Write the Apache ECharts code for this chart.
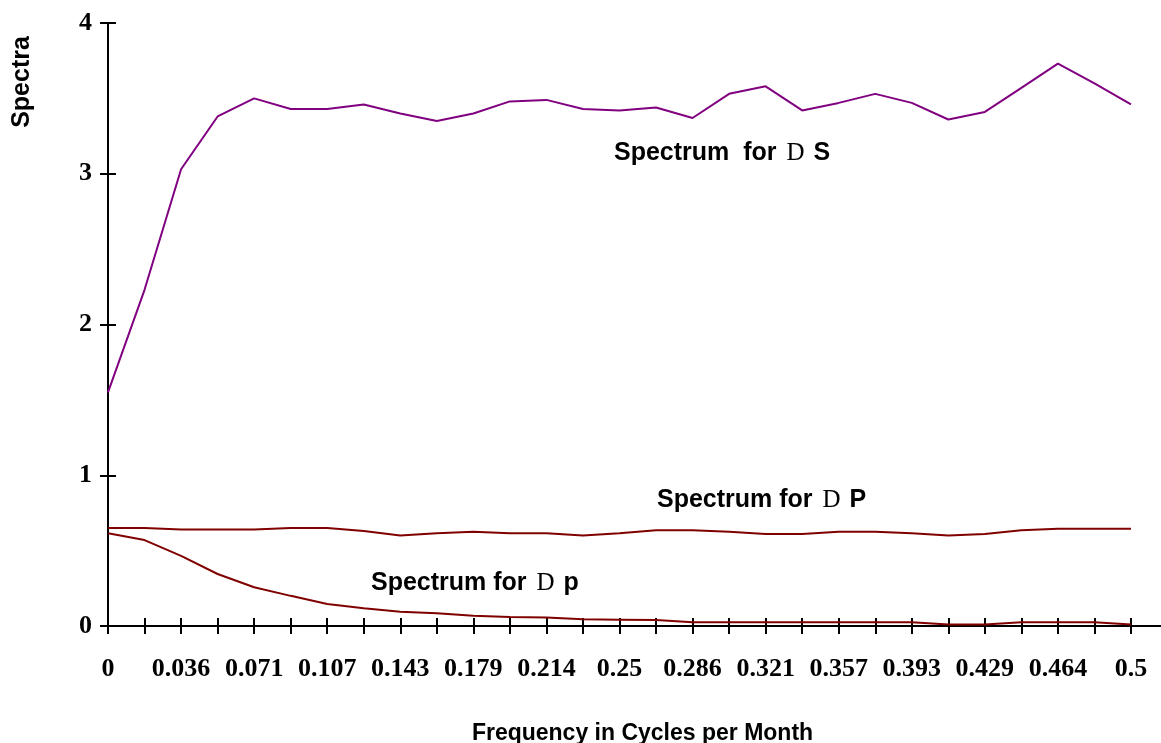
<!DOCTYPE html>
<html>
<head>
<meta charset="utf-8">
<script src="https://cdn.jsdelivr.net/npm/echarts@6/dist/echarts.min.js"></script>
<style>
html,body{margin:0;padding:0;background:#fff;}
#chart{width:1161px;height:743px;}
</style>
</head>
<body>
<div id="chart"></div>
<script>
// Frequency categories (cycles per month)
var frequencies = ['0','0.018','0.036','0.054','0.071','0.089','0.107','0.125','0.143','0.161','0.179','0.196','0.214','0.232','0.25','0.268','0.286','0.304','0.321','0.339','0.357','0.375','0.393','0.411','0.429','0.446','0.464','0.482','0.5'];

// Spectrum for ΔS
var spectrumDS = [1.55,2.23,3.03,3.38,3.50,3.43,3.43,3.46,3.40,3.35,3.40,3.48,3.49,3.43,3.42,3.44,3.37,3.53,3.58,3.42,3.47,3.53,3.47,3.36,3.41,3.57,3.73,3.60,3.46];

// Spectrum for ΔP
var spectrumDP = [0.65,0.65,0.64,0.64,0.64,0.65,0.65,0.63,0.60,0.615,0.625,0.615,0.615,0.60,0.615,0.635,0.635,0.625,0.61,0.61,0.625,0.625,0.615,0.60,0.61,0.635,0.645,0.645,0.645];

// Spectrum for Δp
var spectrumDp = [0.615,0.57,0.465,0.345,0.257,0.20,0.146,0.117,0.095,0.084,0.068,0.06,0.057,0.044,0.042,0.04,0.025,0.025,0.025,0.025,0.025,0.025,0.025,0.01,0.01,0.025,0.025,0.025,0.01];

// Y tick values
var yMin = 0, yMax = 4, yStep = 1;

var chart = echarts.init(document.getElementById('chart'), null, {renderer:'canvas'});

var annoRich = {
  a:{fontFamily:'Liberation Sans', fontWeight:'bold', fontSize:25, color:'#000'},
  d:{fontFamily:'Liberation Serif', fontWeight:'normal', fontSize:25, color:'#000', padding:[0,2,0,3]}
};

var option = {
  animation:false,
  backgroundColor:'#fff',
  grid:{left:108, right:30, top:23, bottom:117, containLabel:false, outerBoundsMode:'none'},
  xAxis:[{
    type:'category', data:frequencies, boundaryGap:false,
    axisLine:{show:true, lineStyle:{color:'#000', width:2}},
    axisTick:{show:true, inside:false, length:8, interval:0, lineStyle:{color:'#000', width:2}},
    axisLabel:{show:true, interval:1, margin:30,
      fontFamily:'Liberation Serif', fontWeight:'bold', fontSize:26, color:'#000'},
    splitLine:{show:false},
    name:'Frequency in Cycles per Month', nameLocation:'middle', nameGap:96,
    nameTextStyle:{fontFamily:'Liberation Sans', fontWeight:'bold', fontSize:23, color:'#000', padding:[0,0,0,46]}
  },{
    type:'category', data:frequencies, boundaryGap:false, position:'bottom',
    axisLine:{show:false},
    axisTick:{show:true, inside:true, length:8, interval:0, lineStyle:{color:'#000', width:2}},
    axisLabel:{show:false}, splitLine:{show:false}
  }],
  yAxis:[{
    type:'value', min:yMin, max:yMax, interval:yStep,
    axisLine:{show:true, lineStyle:{color:'#000', width:2}},
    axisTick:{show:true, inside:false, length:8, lineStyle:{color:'#000', width:2}},
    axisLabel:{show:true, margin:16, fontFamily:'Liberation Serif', fontWeight:'bold', fontSize:26, color:'#000'},
    splitLine:{show:false}
  },{
    type:'value', min:yMin, max:yMax, interval:yStep, position:'left',
    axisLine:{show:false},
    axisTick:{show:true, inside:true, length:8, lineStyle:{color:'#000', width:2}},
    axisLabel:{show:false}, splitLine:{show:false}
  }],
  series:[{
    name:'Spectrum for ΔS', type:'line', data:spectrumDS, xAxisIndex:0, yAxisIndex:0,
    symbol:'none', lineStyle:{color:'#800080', width:2}, itemStyle:{color:'#800080'}, z:3
  },{
    name:'Spectrum for ΔP', type:'line', data:spectrumDP, xAxisIndex:0, yAxisIndex:0,
    symbol:'none', lineStyle:{color:'#800000', width:2}, itemStyle:{color:'#800000'}, z:3
  },{
    name:'Spectrum for Δp', type:'line', data:spectrumDp, xAxisIndex:0, yAxisIndex:0,
    symbol:'none', lineStyle:{color:'#800000', width:2}, itemStyle:{color:'#800000'}, z:3
  }],
  graphic:[{
    type:'text', left:614, top:141,
    style:{text:'{a|Spectrum  for }{d|D}{a| S}', rich:annoRich}
  },{
    type:'text', left:657, top:488,
    style:{text:'{a|Spectrum for }{d|D}{a| P}', rich:annoRich}
  },{
    type:'text', left:371, top:571,
    style:{text:'{a|Spectrum for }{d|D}{a| p}', rich:annoRich}
  },{
    type:'text', x:22, y:82, rotation:Math.PI/2,
    style:{text:'Spectra', fontFamily:'Liberation Sans', fontWeight:'bold', fontSize:25, fill:'#000', align:'center', verticalAlign:'middle'}
  }]
};
chart.setOption(option);

// extend the x axis line to the right edge of the page
var end = chart.convertToPixel({xAxisIndex:0, yAxisIndex:0}, [frequencies.length-1, yMin]);
chart.setOption({graphic:option.graphic.concat([{
  type:'line', shape:{x1:end[0], y1:end[1], x2:1161, y2:end[1]}, style:{stroke:'#000', lineWidth:2}
}])});
</script>
</body>
</html>
